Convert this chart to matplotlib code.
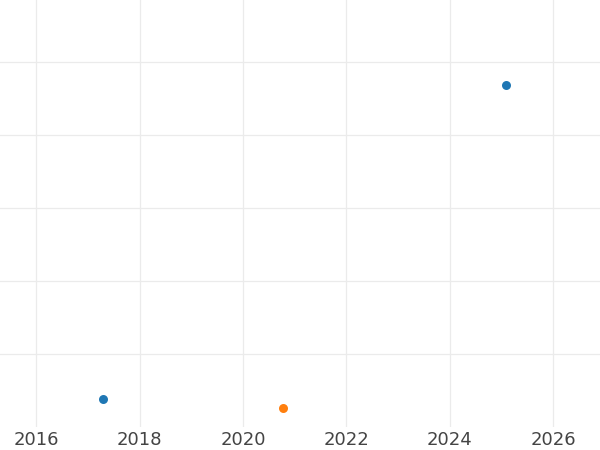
import numpy as np
import matplotlib.pyplot as plt

# decimal years and values
years_a = [2017.30, 2025.09]
values_a = [0.38, 4.68]
years_b = [2020.78]
values_b = [0.26]

x_ticks = [2016, 2018, 2020, 2022, 2024, 2026]
y_grid = [1, 2, 3, 4, 5]

fig = plt.figure(figsize=(6, 4.5), dpi=100)
ax = fig.add_axes([0, 1 - 427 / 450, 1, 427 / 450])

ax.scatter(years_a, values_a, s=42, color="#1f77b4", zorder=3, linewidths=0)
ax.scatter(years_b, values_b, s=42, color="#ff7f0e", zorder=3, linewidths=0)

ax.set_xlim(2015.30, 2026.91)
ax.set_ylim(0, 5.85)
ax.set_xticks(x_ticks)
ax.set_xticklabels([str(t) for t in x_ticks])
ax.set_yticks(y_grid)
ax.set_yticklabels([])
ax.tick_params(axis="both", length=0, labelsize=13, labelcolor="#444444", pad=3)
ax.grid(True, color="#ebebeb", linewidth=0.9)
ax.set_axisbelow(True)
for spine in ax.spines.values():
    spine.set_visible(False)

fig.savefig("out.png", dpi=100)
